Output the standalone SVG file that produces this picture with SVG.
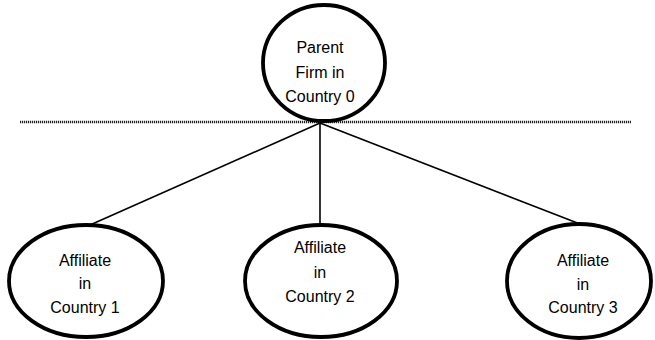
<svg xmlns="http://www.w3.org/2000/svg" width="655" height="340" viewBox="0 0 655 340">
<style>
.node ellipse{fill:#fff;stroke:#000;stroke-width:3.8}
.node text{font-family:"Liberation Sans",Arial,sans-serif;font-size:16px;fill:#000;text-anchor:middle}
.conn line{stroke:#000;stroke-width:1.6}
.sep{stroke:#222;stroke-width:2.5;stroke-dasharray:1.2 0.8}
</style>
<rect width="655" height="340" fill="#fff"/>
<line class="sep" x1="20" y1="122" x2="631" y2="122"/>
<g id="connectors" class="conn">
<line x1="320" y1="123" x2="90" y2="225"/>
<line x1="320" y1="123" x2="320" y2="225"/>
<line x1="320" y1="123" x2="580" y2="224"/>
</g>
<g id="parent" class="node">
<ellipse cx="324" cy="63" rx="61" ry="58"/>
<text x="320" y="53">Parent</text>
<text x="320" y="78">Firm in</text>
<text x="320" y="102">Country 0</text>
</g>
<g id="affiliate1" class="node">
<ellipse cx="86" cy="281" rx="77" ry="56"/>
<text x="85" y="266">Affiliate</text>
<text x="85" y="289">in</text>
<text x="85" y="313">Country 1</text>
</g>
<g id="affiliate2" class="node">
<ellipse cx="321" cy="281" rx="76" ry="56"/>
<text x="320" y="253">Affiliate</text>
<text x="320" y="278">in</text>
<text x="320" y="302">Country 2</text>
</g>
<g id="affiliate3" class="node">
<ellipse cx="579" cy="281" rx="72" ry="57"/>
<text x="583" y="266">Affiliate</text>
<text x="583" y="290">in</text>
<text x="583" y="313">Country 3</text>
</g>
</svg>
